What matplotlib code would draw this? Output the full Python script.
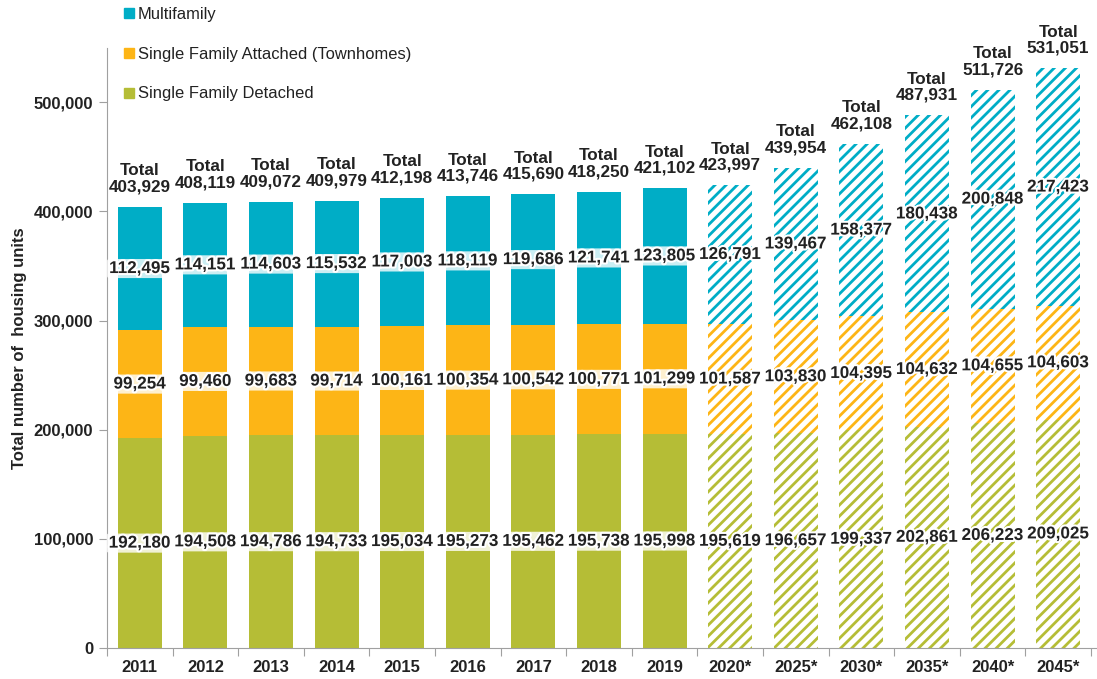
import matplotlib.pyplot as plt
import matplotlib.patheffects as pe
from matplotlib.lines import Line2D

# data
years = ["2011", "2012", "2013", "2014", "2015", "2016", "2017", "2018", "2019",
         "2020*", "2025*", "2030*", "2035*", "2040*", "2045*"]
detached = [192180, 194508, 194786, 194733, 195034, 195273, 195462, 195738, 195998,
            195619, 196657, 199337, 202861, 206223, 209025]
townhomes = [99254, 99460, 99683, 99714, 100161, 100354, 100542, 100771, 101299,
             101587, 103830, 104395, 104632, 104655, 104603]
multifamily = [112495, 114151, 114603, 115532, 117003, 118119, 119686, 121741, 123805,
               126791, 139467, 158377, 180438, 200848, 217423]
totals = [403929, 408119, 409072, 409979, 412198, 413746, 415690, 418250, 421102,
          423997, 439954, 462108, 487931, 511726, 531051]
n_actual = 9  # first 9 are actual, rest are forecasts (hatched)

green = "#B5BD36"
orange = "#FDB516"
teal = "#00ADC6"

plt.rcParams['font.family'] = ['Liberation Sans', 'DejaVu Sans']
plt.rcParams['hatch.linewidth'] = 2.0

fig = plt.figure(figsize=(10.97, 6.79), dpi=100)
ax = fig.add_axes([0.0975, 0.0457, 0.897, 0.884])

x = list(range(len(years)))
width = 0.67

for i in x:
    bottoms = [0, detached[i], detached[i] + townhomes[i]]
    vals = [detached[i], townhomes[i], multifamily[i]]
    cols = [green, orange, teal]
    for b, v, c in zip(bottoms, vals, cols):
        if i < n_actual:
            ax.bar(i, v, width, bottom=b, color=c, linewidth=0)
            box = dict(boxstyle="round,pad=0.12", facecolor="white", edgecolor="none", alpha=0.8)
        else:
            ax.bar(i, v, width, bottom=b, facecolor="white", edgecolor=c,
                   hatch="///", linewidth=0)
            box = None
        ax.text(i, b + v / 2, f"{v:,}", ha="center", va="center", fontsize=12.3,
                fontweight="bold", color="#222222", bbox=box,
                path_effects=[pe.withStroke(linewidth=3, foreground="white")])
    ax.annotate(f"Total\n{totals[i]:,}", (i, totals[i]), xytext=(0, 9),
                textcoords="offset points", ha="center", va="bottom",
                fontsize=12.3, fontweight="bold", color="#222222", linespacing=1.1)

ax.set_xlim(-0.5, len(years) - 0.5)
ax.set_ylim(0, 550000)
ax.set_yticks([0, 100000, 200000, 300000, 400000, 500000])
ax.set_yticklabels([f"{v:,}" for v in [0, 100000, 200000, 300000, 400000, 500000]],
                   fontsize=12, fontweight="bold", color="#222222")
ax.set_xticks([i - 0.5 for i in range(len(years) + 1)])
ax.set_xticklabels([])
ax.set_xticks(x, minor=True)
ax.set_xticklabels(years, minor=True, fontsize=12, fontweight="bold", color="#222222")
ax.tick_params(axis="x", which="minor", length=0, pad=9)
ax.tick_params(axis="x", which="major", length=6, color="#A0A0A0")
ax.tick_params(axis="y", length=6, color="#A0A0A0", pad=4)

for s in ["top", "right"]:
    ax.spines[s].set_visible(False)
for s in ["left", "bottom"]:
    ax.spines[s].set_color("#A0A0A0")
ax.spines["bottom"].set_bounds(-0.5, len(years) - 0.4)

fig.text(0.018, 0.487, "Total number of  housing units", rotation=90, ha="center", va="center",
         fontsize=12, fontweight="bold", color="#222222")

handles = [Line2D([], [], marker="s", linestyle="none", color=c, markersize=7)
           for c in [teal, orange, green]]
leg = fig.legend(handles, ["Multifamily", "Single Family Attached (Townhomes)", "Single Family Detached"],
                 loc="upper left", bbox_to_anchor=(0.097, 1.012), frameon=False, fontsize=11.9,
                 labelspacing=1.5, handletextpad=0.1, handlelength=0.9)
for t in leg.get_texts():
    t.set_color("#222222")

fig.savefig("out.png", dpi=100)
